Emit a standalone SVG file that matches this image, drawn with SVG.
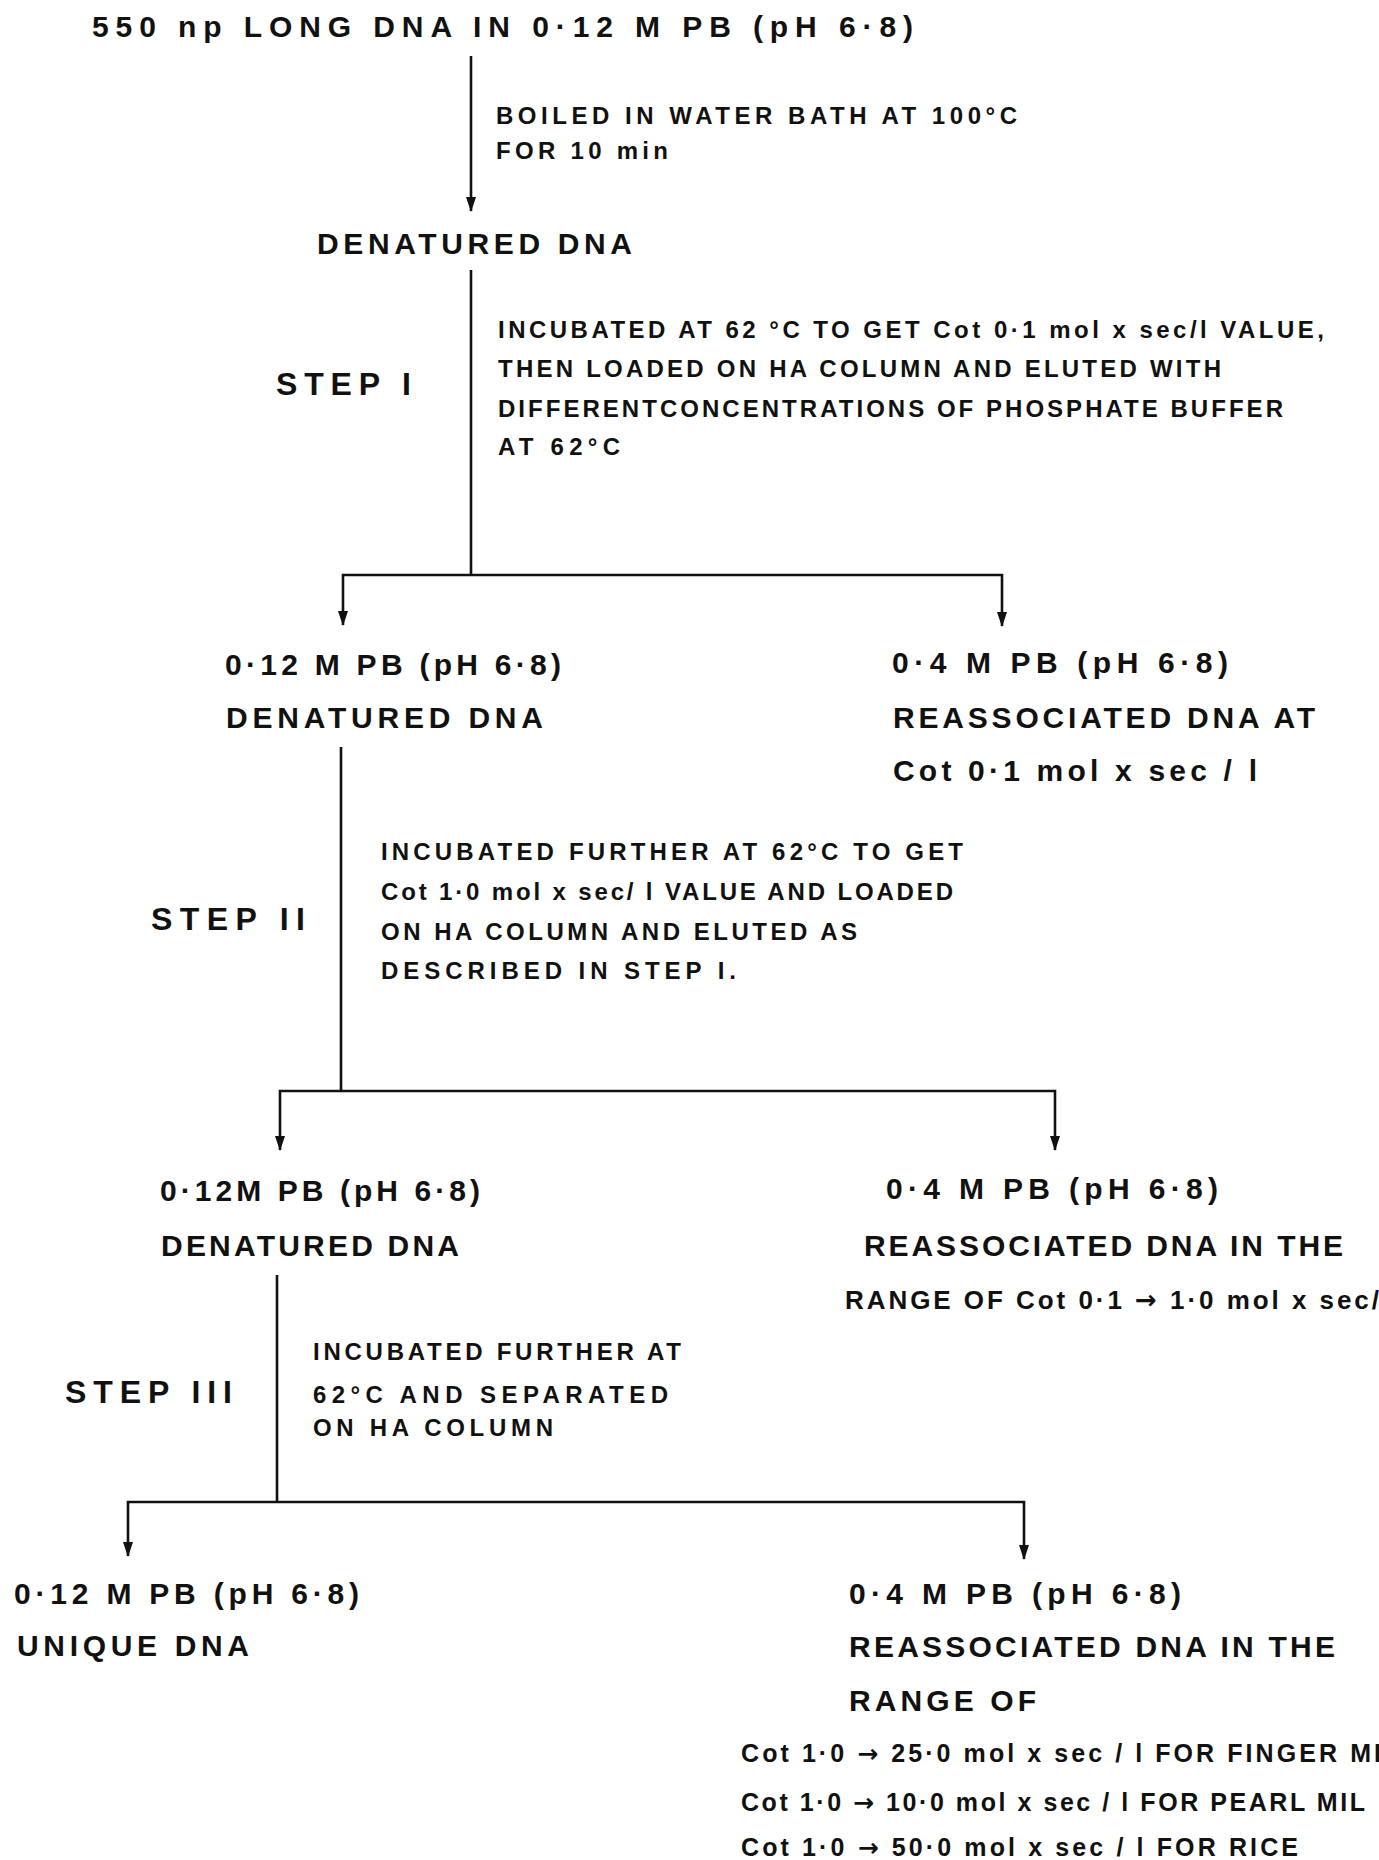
<svg xmlns="http://www.w3.org/2000/svg" width="1379" height="1860" viewBox="0 0 1379 1860">
<style>
text{font-family:"Liberation Sans","DejaVu Sans",Arial,sans-serif;font-weight:bold;fill:#111;}
.big{font-size:30px;}
.step{font-size:32px;}
.small{font-size:24px;}
.ar{font-family:"DejaVu Sans",sans-serif;font-weight:bold;}
.conn{fill:none;stroke:#111;stroke-width:2.6;}
</style>
<defs>
<marker id="arr" viewBox="0 0 15 11" refX="14" refY="5.5" markerWidth="15" markerHeight="11" markerUnits="userSpaceOnUse" orient="auto">
<path d="M0,0.5 L15,5.5 L0,10.5 z" fill="#111"/>
</marker>
</defs>
<rect width="1379" height="1860" fill="#fff"/>
<g id="connectors">
<path class="conn" d="M471,56 V211" marker-end="url(#arr)"/>
<path class="conn" d="M471,270 V575"/>
<path class="conn" d="M471,575 H343 V625" marker-end="url(#arr)"/>
<path class="conn" d="M471,575 H1002 V626" marker-end="url(#arr)"/>
<path class="conn" d="M341,747 V1091"/>
<path class="conn" d="M341,1091 H280 V1150" marker-end="url(#arr)"/>
<path class="conn" d="M341,1091 H1055 V1150" marker-end="url(#arr)"/>
<path class="conn" d="M277,1275 V1502"/>
<path class="conn" d="M277,1502 H128 V1556" marker-end="url(#arr)"/>
<path class="conn" d="M277,1502 H1024 V1559" marker-end="url(#arr)"/>
</g>
<g id="start">
<text class="big" x="92" y="37" textLength="821" lengthAdjust="spacing">550 np  LONG DNA IN 0·12 M PB (pH 6·8)</text>
</g>
<g id="boil-label">
<text class="small" x="496" y="124" textLength="521" lengthAdjust="spacing">BOILED IN WATER BATH AT 100°C</text>
<text class="small" x="496" y="159" textLength="172" lengthAdjust="spacing">FOR 10 min</text>
</g>
<g id="denatured">
<text class="big" x="317" y="254" textLength="315" lengthAdjust="spacing">DENATURED DNA</text>
</g>
<g id="step1">
<text class="step" x="276" y="395" textLength="135" lengthAdjust="spacing">STEP I</text>
</g>
<g id="step1-label">
<text class="small" x="498" y="338" textLength="826" lengthAdjust="spacing">INCUBATED AT 62 °C TO GET Cot 0·1 mol x sec/l VALUE,</text>
<text class="small" x="498" y="377" textLength="723" lengthAdjust="spacing">THEN LOADED ON HA COLUMN AND ELUTED WITH</text>
<text class="small" x="498" y="417" textLength="785" lengthAdjust="spacing">DIFFERENTCONCENTRATIONS OF PHOSPHATE BUFFER</text>
<text class="small" x="498" y="455" textLength="122" lengthAdjust="spacing">AT 62°C</text>
</g>
<g id="denatured-1">
<text class="big" x="225" y="675" textLength="336" lengthAdjust="spacing">0·12 M PB (pH 6·8)</text>
<text class="big" x="226" y="728" textLength="317" lengthAdjust="spacing">DENATURED DNA</text>
</g>
<g id="reassociated-1">
<text class="big" x="892" y="673" textLength="336" lengthAdjust="spacing">0·4 M PB (pH 6·8)</text>
<text class="big" x="893" y="728" textLength="422" lengthAdjust="spacing">REASSOCIATED DNA AT</text>
<text class="big" x="893" y="781" textLength="364" lengthAdjust="spacing">Cot 0·1  mol x sec / l</text>
</g>
<g id="step2">
<text class="step" x="151" y="930" textLength="154" lengthAdjust="spacing">STEP II</text>
</g>
<g id="step2-label">
<text class="small" x="381" y="860" textLength="582" lengthAdjust="spacing">INCUBATED FURTHER AT 62°C TO GET</text>
<text class="small" x="381" y="900" textLength="572" lengthAdjust="spacing">Cot 1·0 mol x sec/ l VALUE AND LOADED</text>
<text class="small" x="381" y="940" textLength="476" lengthAdjust="spacing">ON HA COLUMN AND ELUTED AS</text>
<text class="small" x="381" y="979" textLength="355" lengthAdjust="spacing">DESCRIBED IN STEP I.</text>
</g>
<g id="denatured-2">
<text class="big" x="160" y="1201" textLength="320" lengthAdjust="spacing">0·12M PB (pH 6·8)</text>
<text class="big" x="161" y="1256" textLength="298" lengthAdjust="spacing">DENATURED DNA</text>
</g>
<g id="reassociated-2">
<text class="big" x="886" y="1199" textLength="332" lengthAdjust="spacing">0·4 M PB (pH 6·8)</text>
<text class="big" x="864" y="1256" textLength="479" lengthAdjust="spacing">REASSOCIATED DNA IN THE</text>
<text class="small" x="845" y="1309" textLength="534" lengthAdjust="spacing" style="font-size:26px">RANGE OF Cot 0·1 <tspan class="ar">→</tspan> 1·0 mol x sec/</text>
</g>
<g id="step3">
<text class="step" x="65" y="1403" textLength="167" lengthAdjust="spacing">STEP III</text>
</g>
<g id="step3-label">
<text class="small" x="313" y="1360" textLength="368" lengthAdjust="spacing">INCUBATED FURTHER AT</text>
<text class="small" x="313" y="1403" textLength="355" lengthAdjust="spacing">62°C AND SEPARATED</text>
<text class="small" x="313" y="1436" textLength="240" lengthAdjust="spacing">ON HA COLUMN</text>
</g>
<g id="unique">
<text class="big" x="14" y="1604" textLength="345" lengthAdjust="spacing">0·12 M PB (pH 6·8)</text>
<text class="big" x="17" y="1656" textLength="232" lengthAdjust="spacing">UNIQUE DNA</text>
</g>
<g id="reassociated-3">
<text class="big" x="849" y="1604" textLength="332" lengthAdjust="spacing">0·4 M PB (pH 6·8)</text>
<text class="big" x="849" y="1657" textLength="486" lengthAdjust="spacing">REASSOCIATED DNA IN THE</text>
<text class="big" x="849" y="1711" textLength="187" lengthAdjust="spacing">RANGE OF</text>
<text class="small" x="741" y="1762" textLength="640" lengthAdjust="spacing" style="font-size:25px">Cot 1·0 <tspan class="ar">→</tspan> 25·0  mol x sec / l FOR FINGER MI</text>
<text class="small" x="741" y="1811" textLength="624" lengthAdjust="spacing" style="font-size:25px">Cot 1·0 <tspan class="ar">→</tspan> 10·0  mol x sec / l FOR PEARL MIL</text>
<text class="small" x="741" y="1856" textLength="557" lengthAdjust="spacing" style="font-size:25px">Cot 1·0 <tspan class="ar">→</tspan> 50·0 mol x sec / l FOR RICE</text>
</g>
</svg>
